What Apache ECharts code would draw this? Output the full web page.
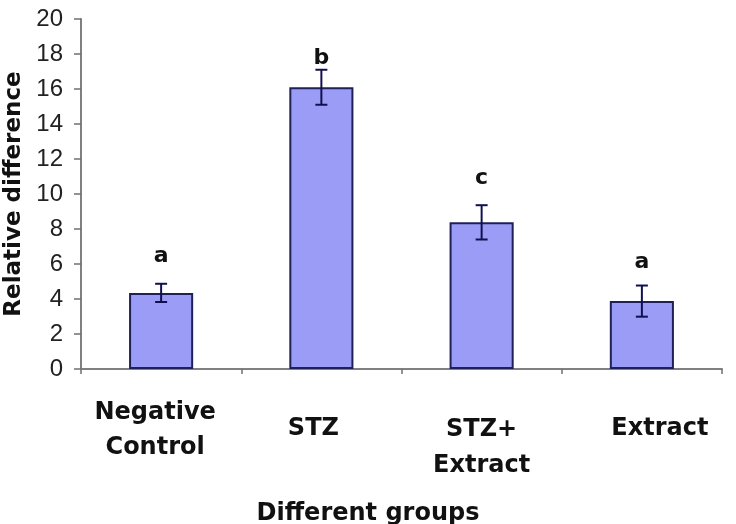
<!DOCTYPE html>
<html>
<head>
<meta charset="utf-8">
<script src="https://cdn.jsdelivr.net/npm/echarts@6/dist/echarts.min.js"></script>
<style>
  html, body { margin: 0; padding: 0; background: #ffffff; }
  #chart { width: 736px; height: 524px; }
</style>
</head>
<body>
<div id="chart"></div>
<script>
// ---- data ----
var categories = ['Negative\nControl', 'STZ', 'STZ+\nExtract', 'Extract'];
var values = [4.35, 16.1, 8.38, 3.88];
var errors = [0.52, 1.0, 0.98, 0.89];
var letters = ['a', 'b', 'c', 'a'];
var yTicks = { min: 0, max: 20, interval: 2 };

// ---- styling ----
var letterGap = [27, 11, 27, 23];     // px from error-bar top to letter centre
var labelFont = 'DejaVu Sans';
function lbl(extra) {
  var s = { fontFamily: labelFont, fontWeight: 'bold', fontSize: 24, color: '#111111' };
  for (var k in extra) s[k] = extra[k];
  return s;
}
var richStyles = {
  n0: lbl({ lineHeight: 35, padding: [0, 12, 0, 0] }),
  s1: lbl({ lineHeight: 68, padding: [0, 16, 0, 0] }),
  t2: lbl({ lineHeight: 70 }),
  b2: lbl({ lineHeight: 2 }),
  s3: lbl({ lineHeight: 68, padding: [0, 0, 0, 36] })
};
function catLabel(value, index) {
  var lines = value.split('\n');
  if (index === 0) return lines.map(function (l) { return '{n0|' + l + '}'; }).join('\n');
  if (index === 1) return '{s1|' + lines[0] + '}';
  if (index === 2) return '{t2|' + lines[0] + '}\n{b2|' + lines[1] + '}';
  return '{s3|' + lines[0] + '}';
}

var chart = echarts.init(document.getElementById('chart'), null, { renderer: 'canvas' });
var errData = categories.map(function (c, i) { return [i, values[i], errors[i]]; });

chart.setOption({
  animation: false,
  backgroundColor: '#ffffff',
  title: {
    text: 'Different groups',
    left: 'center',
    top: 497,
    textStyle: { fontFamily: labelFont, fontWeight: 'bold', fontSize: 24, color: '#111111', lineHeight: 24 }
  },
  grid: { left: 81, right: 14, top: 19, bottom: 155, containLabel: false, outerBoundsMode: 'none' },
  xAxis: {
    type: 'category',
    data: categories,
    axisLine: { show: true, lineStyle: { color: '#808080', width: 2 } },
    axisTick: { show: true, length: 5, lineStyle: { color: '#707070', width: 1.5 } },
    axisLabel: {
      interval: 0,
      margin: 26,
      verticalAlign: 'top',
      formatter: catLabel,
      rich: richStyles,
      fontFamily: labelFont, fontWeight: 'bold', fontSize: 24, color: '#111111', lineHeight: 35
    },
    splitLine: { show: false }
  },
  yAxis: {
    type: 'value',
    min: yTicks.min,
    max: yTicks.max,
    interval: yTicks.interval,
    name: 'Relative difference',
    nameLocation: 'middle',
    nameGap: 53,
    nameTextStyle: { fontFamily: labelFont, fontWeight: 'bold', fontSize: 23, color: '#111111', lineHeight: 23 },
    axisLine: { show: true, lineStyle: { color: '#808080', width: 2 } },
    axisTick: { show: true, length: 7, lineStyle: { color: '#707070', width: 1.5 } },
    axisLabel: { margin: 18, fontFamily: 'Liberation Sans', fontSize: 24, color: '#222222' },
    splitLine: { show: false }
  },
  series: [
    {
      type: 'bar',
      data: values,
      barWidth: '40%',
      itemStyle: { color: '#9b9cf5', borderColor: '#202058', borderWidth: 2 },
      z: 2
    },
    {
      type: 'custom',
      data: errData,
      z: 3,
      renderItem: function (params, api) {
        var i = api.value(0), v = api.value(1), e = api.value(2);
        var top = api.coord([i, v + e]);
        var bot = api.coord([i, v - e]);
        var hw = 6;
        var st = { stroke: '#101050', lineWidth: 2 };
        return {
          type: 'group',
          children: [
            { type: 'line', shape: { x1: top[0], y1: top[1], x2: bot[0], y2: bot[1] }, style: st },
            { type: 'line', shape: { x1: top[0] - hw, y1: top[1], x2: top[0] + hw, y2: top[1] }, style: st },
            { type: 'line', shape: { x1: bot[0] - hw, y1: bot[1], x2: bot[0] + hw, y2: bot[1] }, style: st },
            {
              type: 'text',
              x: top[0], y: top[1] - letterGap[params.dataIndex],
              style: {
                text: letters[params.dataIndex],
                align: 'center', verticalAlign: 'middle',
                font: 'bold 22px "DejaVu Sans"', fill: '#111111'
              }
            }
          ]
        };
      }
    }
  ]
});
</script>
</body>
</html>
